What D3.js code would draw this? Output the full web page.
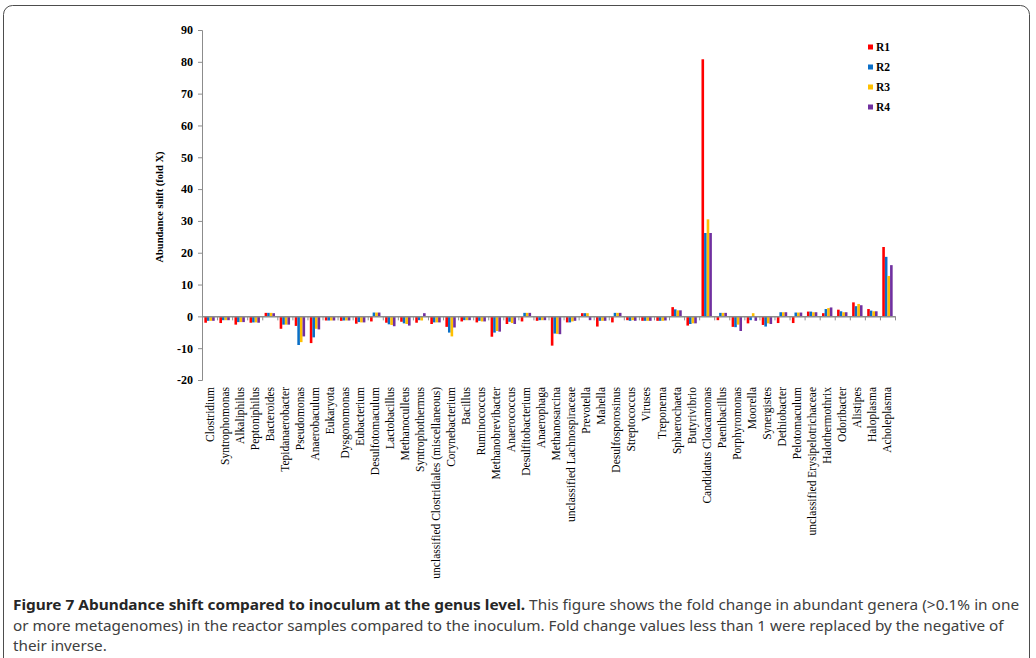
<!DOCTYPE html>
<html>
<head>
<meta charset="utf-8">
<script src="https://cdn.jsdelivr.net/npm/d3@7"></script>
<style>
  html, body { margin: 0; padding: 0; background: #fff; }
  svg { display: block; }
</style>
</head>
<body>
<svg id="fig" width="1036" height="658"></svg>
<script>
// Genera (x categories)
const genera = [
  "Clostridium", "Syntrophomonas", "Alkaliphilus", "Peptoniphilus", "Bacteroides",
  "Tepidanaerobacter", "Pseudomonas", "Anaerobaculum", "Eukaryota", "Dysgonomonas",
  "Eubacterium", "Desulfotomaculum", "Lactobacillus", "Methanoculleus", "Syntrophothermus",
  "unclassified Clostridiales (miscellaneous)", "Corynebacterium", "Bacillus", "Ruminococcus",
  "Methanobrevibacter", "Anaerococcus", "Desulfitobacterium", "Anaerophaga", "Methanosarcina",
  "unclassified Lachnospiraceae", "Prevotella", "Mahella", "Desulfosporosinus", "Streptococcus",
  "Viruses", "Treponema", "Sphaerochaeta", "Butyrivibrio", "Candidatus Cloacamonas",
  "Paenibacillus", "Porphyromonas", "Moorella", "Synergistes", "Dethiobacter", "Pelotomaculum",
  "unclassified Erysipelotrichaceae", "Halothermothrix", "Odoribacter", "Alistipes",
  "Haloplasma", "Acholeplasma"
];

// Fold change per reactor sample
const r1 = [-2.0, -2.1, -2.6, -2.0, 1.1, -3.9, -3.0, -8.4, -1.3, -1.4,
            -2.3, -1.6, -2.0, -1.7, -2.0, -2.4, -3.3, -1.6, -1.9, -6.4,
            -2.4, -1.6, -1.4, -9.2, -1.9, 1.0, -3.2, -1.9, -1.2, -1.4,
            -1.4, 2.9, -2.9, 80.8, -1.2, -3.3, -2.2, -2.7, -2.1, -2.1,
            1.5, 1.0, 2.1, 4.4, 2.3, 21.8];
const r2 = [-1.4, -1.2, -1.8, -1.9, 1.1, -2.6, -9.0, -6.6, -1.3, -1.3,
            -1.8, 1.2, -2.5, -2.2, -1.2, -1.9, -5.1, -1.2, -1.4, -5.1,
            -1.7, 1.1, -1.2, -5.4, -1.9, 1.0, -1.4, 1.1, -1.4, -1.4,
            -1.4, 2.2, -2.4, 26.2, 1.1, -3.4, -1.2, -3.2, 1.3, 1.2,
            1.5, 2.3, 1.6, 3.2, 1.8, 18.7];
const r3 = [-1.4, -1.2, -1.8, -1.9, 1.1, -2.6, -8.1, -3.9, -1.3, -1.3,
            -1.9, 1.2, -2.7, -2.4, -1.3, -1.9, -6.3, -1.2, -1.6, -4.6,
            -2.1, 1.1, -1.2, -5.5, -1.6, 1.0, -1.4, 1.1, -1.2, -1.4,
            -1.4, 1.9, -2.2, 30.5, 1.1, -2.6, 1.0, -2.2, 1.3, 1.2,
            1.3, 2.6, 1.3, 3.9, 1.6, 12.7];
const r4 = [-1.4, -1.2, -1.8, -2.0, 1.0, -2.6, -6.3, -4.1, -1.3, -1.3,
            -1.9, 1.2, -3.1, -2.9, 1.0, -1.9, -3.5, -1.2, -1.6, -4.8,
            -2.4, 1.1, -1.2, -5.6, -1.4, -1.2, -1.4, 1.1, -1.4, -1.4,
            -1.3, 1.9, -2.2, 26.2, 1.1, -4.6, -1.4, -2.4, 1.3, 1.2,
            1.3, 2.8, 1.3, 3.5, 1.6, 16.1];

const seriesNames = ["R1", "R2", "R3", "R4"];
const seriesColors = ["#ff0000", "#0a6fc8", "#ffc000", "#7030a0"];
const yTicks = [-20, -10, 0, 10, 20, 30, 40, 50, 60, 70, 80, 90];

const captionBold = "Figure 7 Abundance shift compared to inoculum at the genus level.";
const captionLines = [
  " This figure shows the fold change in abundant genera (>0.1% in one",
  "or more metagenomes) in the reactor samples compared to the inoculum. Fold change values less than 1 were replaced by the negative of",
  "their inverse."
];

const series = [r1, r2, r3, r4];
const rows = genera.map((g, i) => ({ genus: g, values: series.map(s => s[i]) }));

const svg = d3.select("#fig");
const serif = "'Liberation Serif', 'Times New Roman', serif";

// Rounded frame around the figure
svg.append("rect")
  .attr("x", 3.5).attr("y", 5.5)
  .attr("width", 1026).attr("height", 760)
  .attr("rx", 9).attr("ry", 9)
  .attr("fill", "none").attr("stroke", "#4d4d4d").attr("stroke-width", 1);

// Scales
const x = d3.scaleBand().domain(genera).range([202, 895]).paddingInner(0).paddingOuter(0);
const xSub = d3.scaleBand().domain(seriesNames).range([0, x.bandwidth()]).paddingInner(0).paddingOuter(0.9);
const y = d3.scaleLinear().domain([-20, 90]).range([380, 30]);
const xIdx = d3.scaleLinear().domain([0, genera.length]).range([202, 895]);

// Bars
const groups = svg.append("g").selectAll("g")
  .data(rows).join("g")
  .attr("transform", d => `translate(${x(d.genus)},0)`);

groups.selectAll("rect")
  .data(d => d.values.map((v, k) => ({ key: seriesNames[k], v, k })))
  .join("rect")
  .attr("x", d => xSub(d.key))
  .attr("width", xSub.bandwidth())
  .attr("y", d => y(Math.max(0, d.v)))
  .attr("height", d => Math.abs(y(d.v) - y(0)))
  .attr("fill", d => seriesColors[d.k]);

// Y axis
const yAxis = svg.append("g")
  .attr("transform", "translate(202,0)")
  .call(d3.axisLeft(y).tickValues(yTicks).tickSize(4).tickPadding(5).tickFormat(d => String(d)));
yAxis.select(".domain").attr("stroke", "#8c8c8c");
yAxis.selectAll(".tick line").attr("stroke", "#8c8c8c");
yAxis.selectAll(".tick text")
  .attr("font-family", serif).attr("font-size", 12).attr("font-weight", "bold").attr("fill", "#000");

// X axis along the zero line, ticks at category boundaries
const xAxis = svg.append("g")
  .attr("transform", `translate(0,${y(0)})`)
  .call(d3.axisBottom(xIdx).tickValues(d3.range(genera.length + 1)).tickSize(4).tickSizeOuter(0).tickFormat(""));
xAxis.select(".domain").attr("stroke", "#8c8c8c").attr("stroke-width", 1.5);
xAxis.selectAll(".tick line").attr("stroke", "#8c8c8c");

// Category labels, rotated
svg.append("g").selectAll("text")
  .data(genera).join("text")
  .attr("transform", d => `translate(${x(d) + x.bandwidth() / 2},387) rotate(-90)`)
  .attr("text-anchor", "end")
  .attr("dy", "0.35em")
  .attr("font-family", serif).attr("font-size", 11.5).attr("fill", "#000")
  .text(d => d);

// Y axis title
svg.append("text")
  .attr("transform", "translate(159,207) rotate(-90)")
  .attr("text-anchor", "middle")
  .attr("dy", "0.35em")
  .attr("font-family", serif).attr("font-size", 10.5).attr("font-weight", "bold").attr("fill", "#000")
  .text("Abundance shift (fold X)");

// Legend
const legend = svg.append("g").selectAll("g")
  .data(seriesNames).join("g")
  .attr("transform", (d, i) => `translate(868,${47 + i * 20})`);
legend.append("rect")
  .attr("x", 0).attr("y", -2.5).attr("width", 5).attr("height", 5)
  .attr("fill", (d, i) => seriesColors[i]);
legend.append("text")
  .attr("x", 8).attr("dy", "0.35em")
  .attr("font-family", serif).attr("font-size", 11.5).attr("font-weight", "bold").attr("fill", "#000")
  .text(d => d);

// Caption
const capFont = "'Noto Sans', 'Open Sans', sans-serif";
const capSize = 14.5;
const cap = svg.append("g").attr("transform", "translate(13,0)");
const line1 = cap.append("text").attr("y", 610.5)
  .attr("font-family", capFont).attr("font-size", capSize).attr("fill", "#404040");
line1.append("tspan").attr("font-weight", "bold").attr("fill", "#262626").text(captionBold);
line1.append("tspan").text(captionLines[0]);
const line2 = cap.append("text").attr("y", 631)
  .attr("font-family", capFont).attr("font-size", capSize).attr("fill", "#404040").text(captionLines[1]);
const line3 = cap.append("text").attr("y", 651.5)
  .attr("font-family", capFont).attr("font-size", capSize).attr("fill", "#404040").text(captionLines[2]);

// Condense the caption to the column width: the first two lines are justified
// to their measure, the last line uses the same condensing as the second.
const s1 = 1007 / line1.node().getComputedTextLength();
const s2 = 992 / line2.node().getComputedTextLength();
line1.attr("transform", `scale(${s1},1)`);
line2.attr("transform", `scale(${s2},1)`);
line3.attr("transform", `scale(${s2},1)`);
</script>
</body>
</html>
